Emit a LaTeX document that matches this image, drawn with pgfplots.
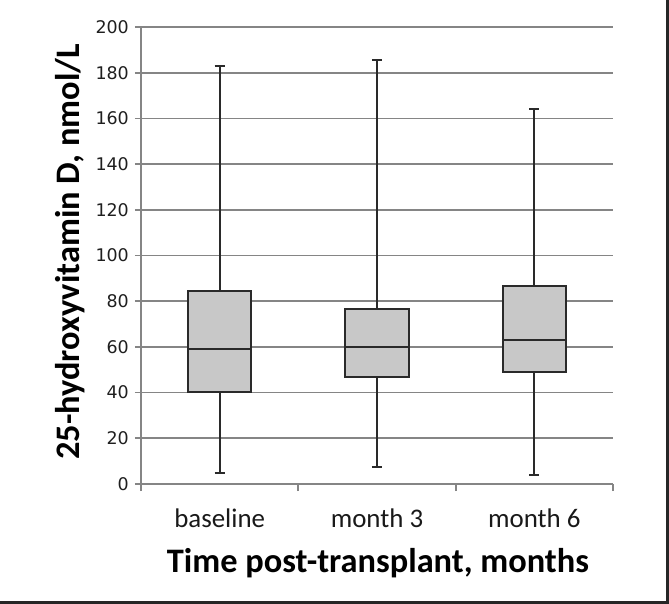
\documentclass[border=0pt]{standalone}
\usepackage{fontspec}
\setmainfont{Carlito}
\newfontfamily\dejavu{DejaVu Sans}
\usepackage{pgfplots}
\pgfplotsset{compat=1.18}
\usepgfplotslibrary{statistics}
\definecolor{boxgray}{HTML}{C8C8C8}
\definecolor{boxedge}{HTML}{2A2A2A}
\definecolor{gridgray}{HTML}{858585}
\begin{document}
\begin{tikzpicture}
\useasboundingbox (0,0) rectangle (669bp,604bp);
\begin{axis}[
  at={(141bp,120bp)}, anchor=south west,
  scale only axis, width=472bp, height=457bp,
  xmin=-0.5, xmax=2.5, ymin=0, ymax=200,
  axis x line=bottom, axis y line=left,
  axis line style={-, draw=gridgray, line width=1.7bp},
  ytick={0,20,...,200},
  ymajorgrids, grid style={draw=gridgray, line width=1.7bp},
  xtick={0,1,2}, xticklabels={baseline, month 3, month 6},
  minor xtick={-0.5,0.5,1.5,2.5},
  tick align=outside,
  major tick length=6bp, minor tick length=7bp,
  xtick style={draw=none},
  minor x tick style={draw=gridgray, line width=1.7bp},
  ytick style={draw=gridgray, line width=1.7bp},
  /pgf/number format/assume math mode=true,
  yticklabel style={font=\dejavu\fontsize{17.5}{17.5}\selectfont, color=black!88, inner sep=0bp, xshift=-6bp},
  xticklabel style={font=\fontsize{27}{27}\selectfont, color=black!90, yshift=-15bp},
  xlabel={Time post-transplant, months},
  ylabel={25-hydroxyvitamin D, nmol/L},
  xlabel style={at={(rel axis cs:0.502,0)}, anchor=center, yshift=-79bp, font=\fontsize{34.5}{34.5}\selectfont\bfseries},
  ylabel style={at={(rel axis cs:0,0.508)}, anchor=center, yshift=71bp, font=\fontsize{34.5}{34.5}\selectfont\bfseries},
  clip=false,
  boxplot/draw direction=y,
  boxplot/every median/.style={line width=2.2bp, draw=boxedge},
]
\addplot[boxplot prepared={lower whisker=4.7, lower quartile=40.1, median=59.2, upper quartile=84.5, upper whisker=183, draw position=0, box extend=0.403, whisker extend=0.064},
  fill=boxgray, draw=boxedge, line width=1.8bp] coordinates {};
\addplot[boxplot prepared={lower whisker=7.6, lower quartile=47, median=59.8, upper quartile=76.6, upper whisker=185.5, draw position=1, box extend=0.403, whisker extend=0.064},
  fill=boxgray, draw=boxedge, line width=1.8bp] coordinates {};
\addplot[boxplot prepared={lower whisker=3.9, lower quartile=48.9, median=63, upper quartile=86.7, upper whisker=164.2, draw position=2, box extend=0.403, whisker extend=0.064},
  fill=boxgray, draw=boxedge, line width=1.8bp] coordinates {};
\end{axis}
\draw[line width=2.5bp, draw=black!85] (667.5bp,0) -- (667.5bp,604bp);
\draw[line width=2.5bp, draw=black!85] (0,1.5bp) -- (669bp,1.5bp);
\end{tikzpicture}
\end{document}
